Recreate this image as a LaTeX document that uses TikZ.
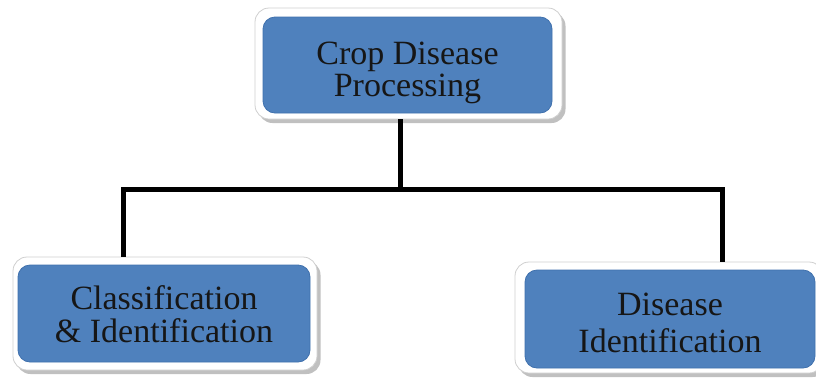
\documentclass[tikz,border=0pt]{standalone}
\usepackage{fontspec}
\setmainfont{Liberation Serif}
\usetikzlibrary{shadows}
\definecolor{boxblue}{HTML}{4F81BD}
\definecolor{boxedge}{HTML}{3F70AD}
\definecolor{frameedge}{HTML}{CFCFCF}
\definecolor{txt}{HTML}{161616}
\newcommand\boxtext[3]{\raisebox{#2}[0pt][0pt]{\fontsize{34pt}{#1}\selectfont\begin{tabular}{@{}c@{}}#3\end{tabular}}}
\tikzset{
  frame/.style={draw=frameedge, line width=0.8pt, fill=white, rounded corners=14pt,
    drop shadow={shadow xshift=3.5pt, shadow yshift=-4pt, fill=black!45, opacity=0.55}},
  bluebox/.style={draw=boxedge, line width=0.8pt, fill=boxblue, rounded corners=12pt,
    text=txt, inner sep=0pt},
  conn/.style={draw=black, line width=5pt, line join=miter}
}
\begin{document}
\begin{tikzpicture}[x=1pt,y=-1pt]
\useasboundingbox (0,0) rectangle (816,381);
% top box
\node[frame, minimum width=307pt, minimum height=111pt] (topf) at (408.5,63.5) {};
\node[bluebox, minimum width=289pt, minimum height=96pt] (top) at (407.5,65)
  {\boxtext{31pt}{-15.5pt}{Crop Disease\\Processing}};
% left box
\node[frame, minimum width=304pt, minimum height=113pt] (leftf) at (165,313.5) {};
\node[bluebox, minimum width=292pt, minimum height=97pt] (left) at (164,313.5)
  {\boxtext{32pt}{-11.5pt}{Classification\\\& Identification}};
% right box
\node[frame, minimum width=308pt, minimum height=111pt] (rightf) at (669,317.5) {};
\node[bluebox, minimum width=290pt, minimum height=98pt] (right) at (670,319)
  {\boxtext{37pt}{-13.5pt}{Disease\\Identification}};
% connectors
\coordinate (hub) at (400,189);
\coordinate (hl) at (123,189);
\coordinate (hr) at (722,189);
\draw[conn] (topf.south -| hub) -- (hub);
\draw[conn] (leftf.north -| hl) |- (hr) -- (rightf.north -| hr);
\end{tikzpicture}
\end{document}
